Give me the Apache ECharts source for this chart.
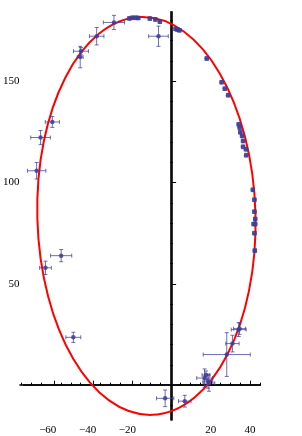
<!DOCTYPE html>
<html><head><meta charset="utf-8">
<script src="https://cdn.jsdelivr.net/npm/echarts@6/dist/echarts.min.js"></script>
<style>html,body{margin:0;padding:0;background:#fff}#c{width:302px;height:436px}</style>
</head><body><div id="c"></div>
<script>
// measured points (x, y) with x / y error half-widths
const ptX = [-29.4,-38.2,-46.2,-46.6,-60.8,-66.8,-6.7,-68.8,-56.3,-64.3,-50.1,-3.3,6.7,16.8,18.5,17.5,19.0,28.1,31.0,34.2,34.6,
  -21.5,-20.0,-18.3,-17.0,-11.1,-8.3,-6.0,2.0,3.0,4.0,17.9,25.5,27.1,28.8,34.2,34.7,35.0,35.9,36.4,36.4,37.9,38.0,41.4,42.2,42.2,42.6,42.6,41.8,42.2,42.4];
const ptY = [179.0,172.2,164.8,161.9,129.9,122.2,172.2,105.8,63.9,57.9,23.6,-6.5,-7.9,3.5,2.0,5.0,1.0,15.1,20.5,27.4,27.9,
  181.0,181.3,181.3,181.2,180.9,180.5,179.4,175.8,175.5,175.1,161.2,149.5,146.3,143.1,128.7,127.1,124.8,123.0,120.5,117.6,116.4,113.5,96.4,91.5,85.6,82.0,79.5,79.5,75.0,66.4];
const errX = [5.4,3.7,3.8,1.5,3.6,5.0,5.0,4.7,5.4,3.0,3.8,4.4,3.2,4.0,2.5,2.0,3.0,12.0,3.4,3.8,3.0,
  0.9,0.9,0.9,0.9,0.9,0.9,0.9,0.9,0.9,0.9,0.9,0.9,0.9,0.9,0.9,0.9,0.9,0.9,0.9,0.9,0.9,0.9,0.9,0.9,0.9,0.9,0.9,0.9,0.9,0.9];
const errY = [3.5,4.3,1.8,5.3,2.7,3.5,5.0,4.1,3.0,3.3,2.5,4.1,2.9,4.5,3.5,2.0,4.0,10.8,4.1,3.4,2.8,
  0.9,0.9,0.9,0.9,0.9,0.9,0.9,0.9,0.9,0.9,0.9,0.9,0.9,0.9,0.9,0.9,0.9,0.9,0.9,0.9,0.9,0.9,0.9,0.9,0.9,0.9,0.9,0.9,0.9,0.9];
// fitted ellipse: centre, semi-axes, tilt (radians)
const ellipseCenter = [-12.85, 83.5];
const ellipseRadii = [55.6, 98.2];
const ellipseTilt = 0.0276;
// ticks
const xMajorTicks = [-60,-40,-20,20,40];
const xPosLabels = [20,40];
const xNegLabels = [-60,-40,-20];
const xMinorTicks = [-75,-70,-65,-55,-50,-45,-35,-30,-25,-15,-10,-5,5,10,15,25,30,35,45];
const yMajorTicks = [50,100,150];
const yMinorTicks = [-10,10,20,30,40,60,70,80,90,110,120,130,140,160,170,180];

const errData = ptX.map((x,i)=>[x, ptY[i], errX[i], errY[i]]);
const ptData = ptX.map((x,i)=>[x, ptY[i]]);
const fmt = v => v < 0 ? '\u2212' + Math.abs(v) : String(v);
const lbl = {fontFamily:'Liberation Serif', fontSize:11, color:'#000'};
const mkLine = () => ({onZero:true, lineStyle:{color:'#000', width:1.6}});
const gridBox = {left:20, right:41.7, top:11.7, bottom:14.3};
const X = () => ({type:'value', min:-75.5, max:45.2, splitLine:{show:false}});
const Y = () => ({type:'value', min:-17.2, max:184.3, splitLine:{show:false}});

const chart = echarts.init(document.getElementById('c'), null, {renderer:'canvas'});
chart.setOption({
  animation:false,
  grid:[Object.assign({}, gridBox), Object.assign({}, gridBox)],
  xAxis:[
    Object.assign({gridIndex:0, axisLine:mkLine(),
      axisTick:{inside:true, length:4.5, customValues:xMajorTicks, lineStyle:{color:'#000', width:1}},
      axisLabel:Object.assign({customValues:xPosLabels, formatter:fmt, margin:5}, lbl)}, X()),
    Object.assign({gridIndex:1, axisLine:mkLine(),
      axisTick:{inside:true, length:2.5, customValues:xMinorTicks, lineStyle:{color:'#000', width:1}},
      // minus sign hangs left of the centred digits
      axisLabel:Object.assign({customValues:xNegLabels, formatter:fmt, margin:5, padding:[0,6.2,0,0]}, lbl)}, X())
  ],
  yAxis:[
    Object.assign({gridIndex:0, axisLine:mkLine(),
      axisTick:{inside:true, length:4.5, customValues:yMajorTicks, lineStyle:{color:'#000', width:1}},
      axisLabel:Object.assign({customValues:yMajorTicks, formatter:fmt, margin:4}, lbl)}, Y()),
    Object.assign({gridIndex:1, axisLine:mkLine(),
      axisTick:{inside:true, length:2.5, customValues:yMinorTicks, lineStyle:{color:'#000', width:1}},
      axisLabel:{show:false}}, Y())
  ],
  series:[
    {
      type:'custom', xAxisIndex:0, yAxisIndex:0, clip:false, silent:true,
      data:[[ellipseCenter[0], ellipseCenter[1], ellipseRadii[0], ellipseRadii[1], ellipseTilt]],
      renderItem:(params, api) => {
        const c = api.coord([api.value(0), api.value(1)]);
        const s = api.size([api.value(2), api.value(3)], [api.value(0), api.value(1)]);
        return {type:'ellipse', x:c[0], y:c[1], rotation:api.value(4),
          shape:{cx:0, cy:0, rx:s[0], ry:s[1]},
          style:{fill:'none', stroke:'#ff0000', lineWidth:2}};
      }
    },
    {
      type:'custom', xAxisIndex:0, yAxisIndex:0, clip:false, silent:true,
      data:errData,
      renderItem:(params, api) => {
        const x = api.value(0), y = api.value(1), ex = api.value(2), ey = api.value(3);
        const l = api.coord([x-ex, y]), r = api.coord([x+ex, y]);
        const b = api.coord([x, y-ey]), t = api.coord([x, y+ey]);
        const cap = 2;
        const st = {stroke:'rgba(61,61,153,0.75)', lineWidth:1};
        const ln = (x1,y1,x2,y2) => ({type:'line', shape:{x1,y1,x2,y2}, style:st});
        return {type:'group', children:[
          ln(l[0],l[1],r[0],r[1]), ln(l[0],l[1]-cap,l[0],l[1]+cap), ln(r[0],r[1]-cap,r[0],r[1]+cap),
          ln(b[0],b[1],t[0],t[1]), ln(b[0]-cap,b[1],b[0]+cap,b[1]), ln(t[0]-cap,t[1],t[0]+cap,t[1])
        ]};
      }
    },
    {
      type:'scatter', xAxisIndex:0, yAxisIndex:0, silent:true,
      symbol:'circle', symbolSize:4.5,
      itemStyle:{color:'#3d3d99', opacity:0.85},
      data:ptData
    }
  ]
});
</script>
</body></html>
